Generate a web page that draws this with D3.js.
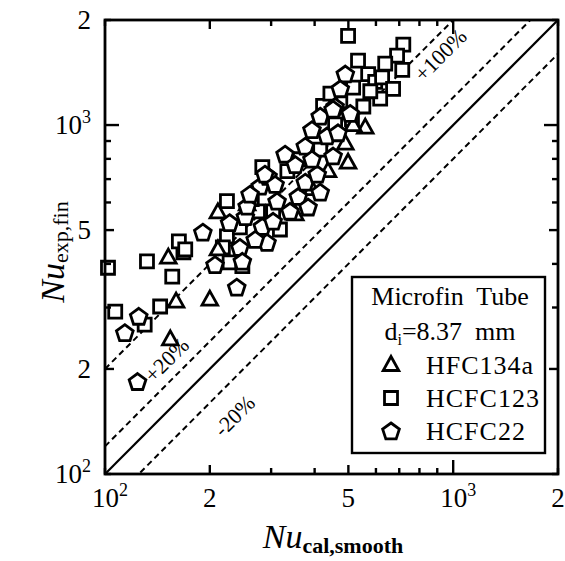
<!DOCTYPE html>
<html>
<head>
<meta charset="utf-8">
<script src="https://cdn.jsdelivr.net/npm/d3@7"></script>
<style>
  body { margin: 0; background: #fff; }
  text { font-family: "Liberation Serif", "Times New Roman", serif; fill: #000; white-space: pre; }
</style>
</head>
<body>
<svg id="chart" width="565" height="561"></svg>
<script>
// Nu_cal,smooth (x) vs Nu_exp,fin (y)
var hfc134a = [
  [152, 417], [160, 312], [154, 243], [200, 316], [211, 562], [211, 440],
  [437, 738], [559, 983], [499, 780], [490, 885], [516, 1000], [256, 593],
  [352, 555], [393, 655]
];
var hcfc123 = [
  [102, 390], [132, 407], [168, 432], [156, 368], [107, 292], [144, 302],
  [130, 268], [224, 605], [163, 464], [170, 440], [224, 480], [218, 446],
  [228, 404], [248, 394], [275, 566], [304, 566], [264, 613], [334, 738],
  [283, 758], [499, 1800], [719, 1700], [690, 1580], [638, 1500], [714, 1440],
  [570, 1400], [597, 1330], [625, 1370], [516, 1280], [672, 1270], [617, 1190],
  [578, 1250], [552, 1130], [423, 1135], [474, 1170], [458, 1005], [512, 1040],
  [318, 502], [363, 798], [415, 850], [444, 1230], [533, 1530], [244, 509]
];
var hcfc22 = [
  [125, 283], [114, 254], [124, 184], [239, 343], [191, 493], [228, 525],
  [253, 546], [244, 446], [207, 398], [248, 407], [283, 512], [292, 461],
  [279, 668], [294, 713], [458, 1130], [415, 1060], [393, 970], [434, 930],
  [376, 870], [329, 825], [452, 815], [288, 723], [312, 605], [359, 624],
  [376, 686], [407, 723], [415, 642], [383, 582], [304, 530], [256, 585],
  [340, 566], [467, 950], [490, 1400], [452, 1110], [506, 1080], [352, 770],
  [393, 798], [270, 470], [308, 676], [474, 1270], [261, 634]
];

var tickValues = [100, 200, 300, 400, 500, 600, 700, 800, 900, 1000, 2000];
var tickLabels = {100: ["10", "2"], 200: ["2"], 500: ["5"], 1000: ["10", "3"], 2000: ["2"]};
var ratioLines = [
  {k: 2.0, dash: "6,4"},
  {k: 1.2, dash: "6,4"},
  {k: 1.0, dash: null},
  {k: 0.8, dash: "6,4"}
];
var ratioLabels = [
  {text: "+100%", at: [930, 1570]},
  {text: "+20%", at: [152, 210]},
  {text: "-20%", at: [238, 145]}
];
var legendItems = [
  {name: "HFC134a", shape: "tri"},
  {name: "HCFC123", shape: "sq"},
  {name: "HCFC22", shape: "pent"}
];

var svg = d3.select("#chart");
var x = d3.scaleLog().domain([100, 2000]).range([105, 558]);
var y = d3.scaleLog().domain([100, 2000]).range([474, 20]);

svg.append("defs").append("clipPath").attr("id", "plotclip")
  .append("rect")
  .attr("x", x(100)).attr("y", y(2000))
  .attr("width", x(2000) - x(100)).attr("height", y(100) - y(2000));

// reference lines y = k x
var lineG = svg.append("g").attr("clip-path", "url(#plotclip)");
ratioLines.forEach(function (r) {
  lineG.append("line")
    .attr("x1", x(100)).attr("y1", y(100 * r.k))
    .attr("x2", x(2000)).attr("y2", y(2000 * r.k))
    .attr("stroke", "#000")
    .attr("stroke-width", r.dash ? 2 : 2.2)
    .attr("stroke-dasharray", r.dash);
});

// markers
function shapePath(shape) {
  if (shape == "sq") {
    return "M-6.5,-6.5L6.5,-6.5L6.5,6.5L-6.5,6.5Z";
  } else if (shape == "tri") {
    return "M0,-8.5L7.8,5.5L-7.8,5.5Z";
  }
  var pts = [];
  for (var i = 0; i < 5; i++) {
    var a = -Math.PI / 2 + i * 2 * Math.PI / 5;
    pts.push([8.8 * Math.cos(a), 8.8 * Math.sin(a) + 0.8]);
  }
  return "M" + pts.join("L") + "Z";
}

function drawSeries(data, shape) {
  svg.append("g").selectAll("path")
    .data(data)
    .enter()
    .append("path")
    .attr("d", shapePath(shape))
    .attr("transform", function (d) {
      return "translate(" + x(d[0]) + "," + y(d[1]) + ")";
    })
    .attr("fill", "#fff")
    .attr("stroke", "#000")
    .attr("stroke-width", 2.8)
    .attr("stroke-linejoin", "miter");
}

drawSeries(hcfc123, "sq");
drawSeries(hfc134a, "tri");
drawSeries(hcfc22, "pent");

ratioLabels.forEach(function (r) {
  svg.append("text")
    .attr("transform", "translate(" + x(r.at[0]) + "," + y(r.at[1]) + ") rotate(-45)")
    .attr("text-anchor", "middle")
    .attr("dominant-baseline", "middle")
    .style("font-size", "22px")
    .text(r.text);
});

// frame
svg.append("rect")
  .attr("x", x(100)).attr("y", y(2000))
  .attr("width", x(2000) - x(100)).attr("height", y(100) - y(2000))
  .attr("fill", "none").attr("stroke", "#000").attr("stroke-width", 2.8);

function tickLen(v) {
  if (v == 1000) return 14;
  if (v == 200 || v == 500) return 9;
  return 6;
}

var tickG = svg.append("g").attr("stroke", "#000").attr("stroke-width", 2.4);
tickValues.forEach(function (v) {
  var L = tickLen(v);
  // bottom and top
  tickG.append("line").attr("x1", x(v)).attr("x2", x(v)).attr("y1", y(100)).attr("y2", y(100) - L);
  tickG.append("line").attr("x1", x(v)).attr("x2", x(v)).attr("y1", y(2000)).attr("y2", y(2000) + L);
  // left and right
  tickG.append("line").attr("y1", y(v)).attr("y2", y(v)).attr("x1", x(100)).attr("x2", x(100) + L);
  tickG.append("line").attr("y1", y(v)).attr("y2", y(v)).attr("x1", x(2000)).attr("x2", x(2000) - L);
});

function label(g, parts) {
  g.append("tspan").text(parts[0]);
  if (parts[1]) {
    g.append("tspan").attr("dy", "-11").style("font-size", "18px").text(parts[1]);
  }
}

// x tick labels
Object.keys(tickLabels).forEach(function (k) {
  var v = +k;
  var t = svg.append("text")
    .attr("x", x(v) + (tickLabels[k].length > 1 ? 5 : 0))
    .attr("y", 507)
    .attr("text-anchor", "middle")
    .style("font-size", "27px");
  label(t, tickLabels[k]);
});

// y tick labels
Object.keys(tickLabels).forEach(function (k) {
  var v = +k;
  var t = svg.append("text")
    .attr("x", 91)
    .attr("y", y(v) + 9)
    .attr("text-anchor", "end")
    .style("font-size", "27px");
  label(t, tickLabels[k]);
});

// axis titles
var xt = svg.append("text")
  .attr("x", 333).attr("y", 548)
  .attr("text-anchor", "middle");
xt.append("tspan").style("font-size", "34px").style("font-style", "italic").text("Nu");
xt.append("tspan").attr("dy", "5").style("font-size", "22px").style("font-weight", "bold").text("cal,smooth");

var yt = svg.append("text")
  .attr("transform", "translate(64,252) rotate(-90)")
  .attr("text-anchor", "middle");
yt.append("tspan").style("font-size", "34px").style("font-style", "italic").text("Nu");
yt.append("tspan").attr("dy", "4").style("font-size", "22px").text("exp,fin");

// legend
var lg = svg.append("g");
lg.append("rect")
  .attr("x", 352).attr("y", 277).attr("width", 193).attr("height", 176)
  .attr("fill", "#fff").attr("stroke", "#000").attr("stroke-width", 2.4);
lg.append("text").attr("x", 450).attr("y", 305).attr("text-anchor", "middle")
  .style("font-size", "26px").text("Microfin  Tube");
var dt = lg.append("text").attr("x", 450).attr("y", 340).attr("text-anchor", "middle")
  .style("font-size", "26px");
dt.append("tspan").text("d");
dt.append("tspan").attr("dy", "5").style("font-size", "16px").text("i");
dt.append("tspan").attr("dy", "-5").text("=8.37  mm");

legendItems.forEach(function (it, i) {
  var cy = 365 + i * 33;
  lg.append("path")
    .attr("d", shapePath(it.shape))
    .attr("transform", "translate(391," + cy + ")")
    .attr("fill", "#fff").attr("stroke", "#000").attr("stroke-width", 2.8);
  lg.append("text").attr("x", 426).attr("y", cy + 9)
    .style("font-size", "26px").style("letter-spacing", "1px").text(it.name);
});
</script>
</body>
</html>
